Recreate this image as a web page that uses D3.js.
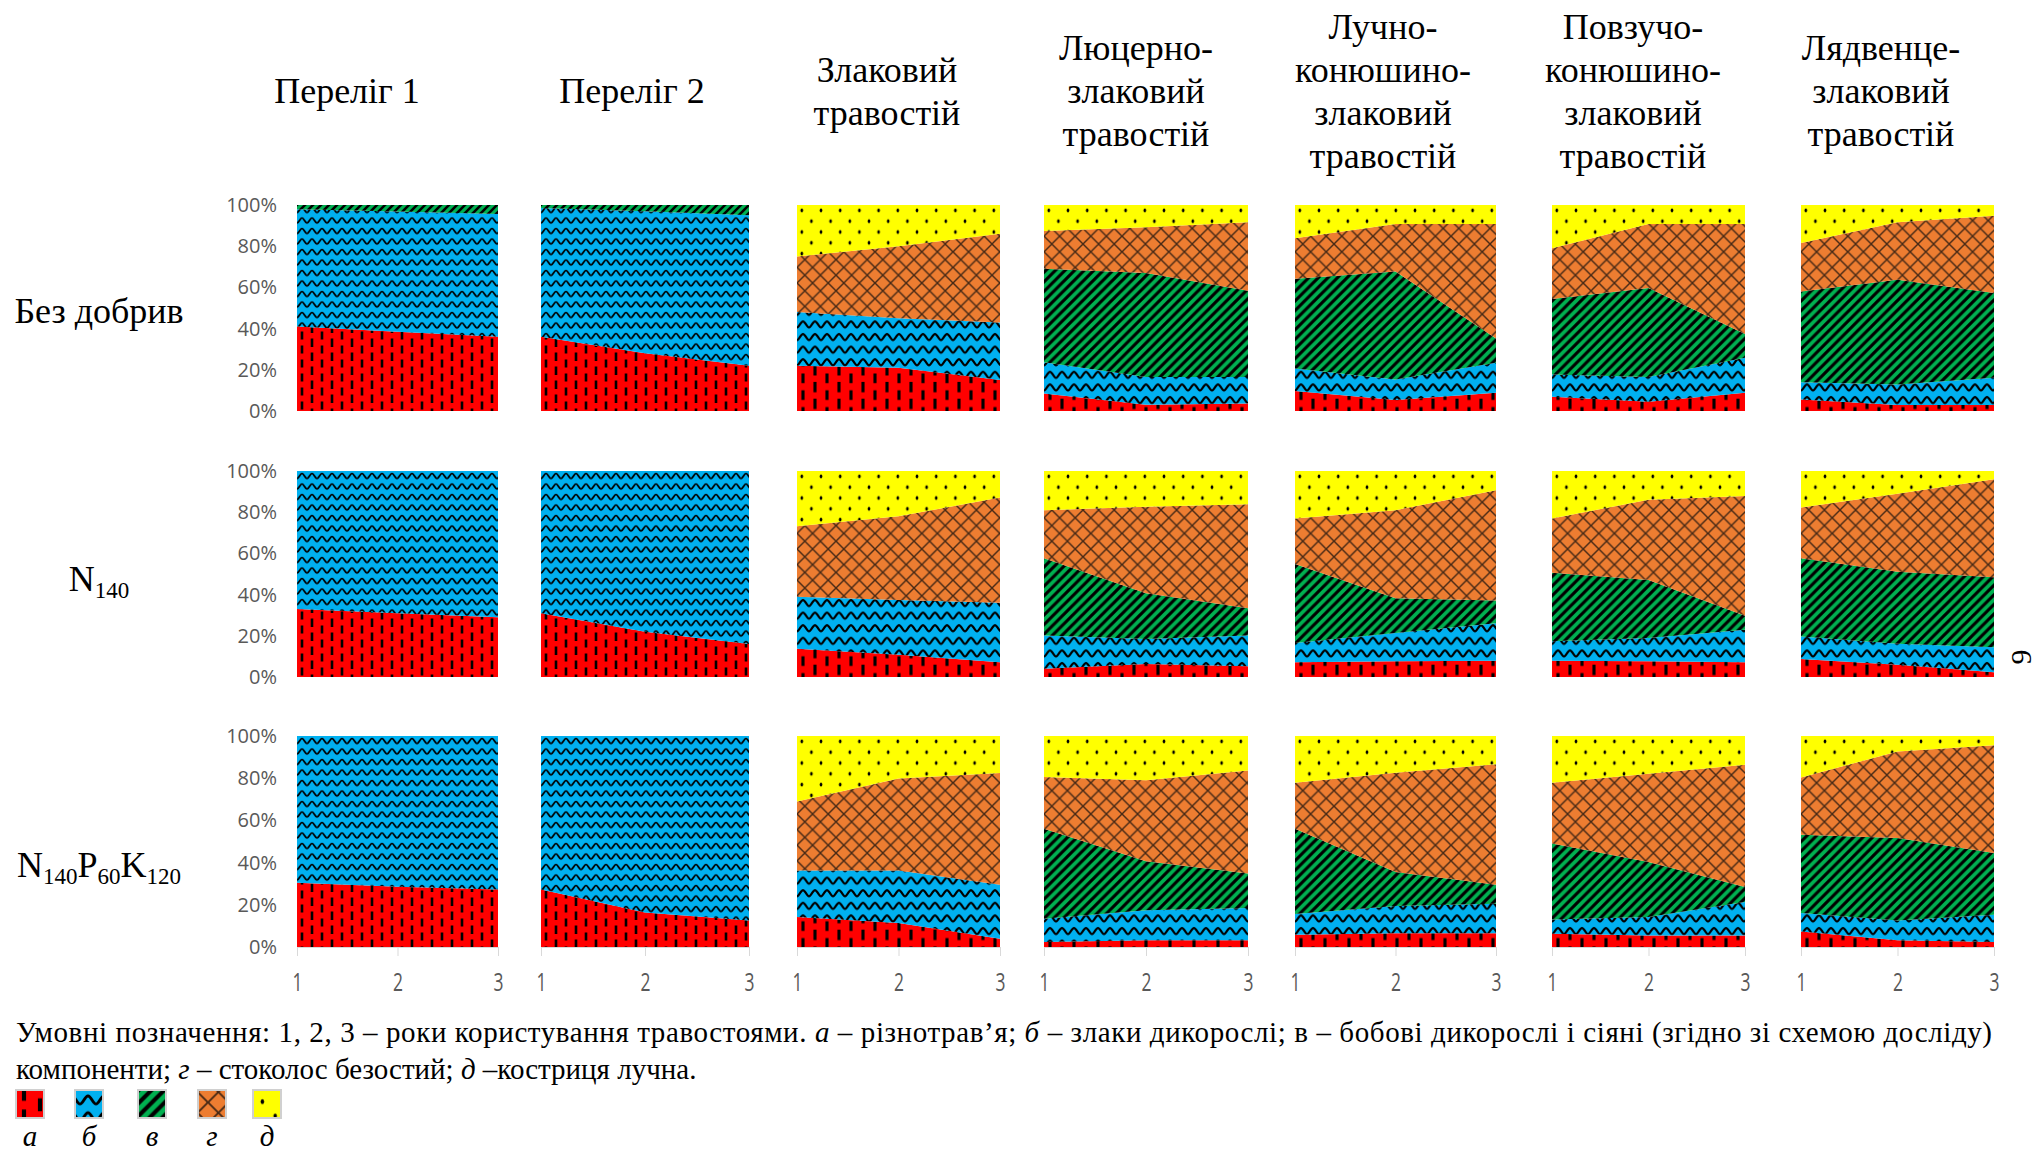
<!DOCTYPE html>
<html>
<head>
<meta charset="utf-8">
<script src="https://cdn.jsdelivr.net/npm/d3@7"></script>
<style>
  body { margin: 0; background: #fff; }
  svg { display: block; }
  .serif { font-family: "Liberation Serif", "Times New Roman", serif; fill: #000; }
  .tick text { font-family: "Open Sans", sans-serif; fill: #595959; }
</style>
</head>
<body>
<div id="chart"></div>
<script>
const W = 2040, H = 1156;

// years of sward use
const years = [1, 2, 3];

const columnTitles = [
  ["Переліг 1"], ["Переліг 2"],
  ["Злаковий", "травостій"],
  ["Люцерно-", "злаковий", "травостій"],
  ["Лучно-", "конюшино-", "злаковий", "травостій"],
  ["Повзучо-", "конюшино-", "злаковий", "травостій"],
  ["Лядвенце-", "злаковий", "травостій"]
];

// row titles: [text, isSubscript]
const rowTitles = [
  [["Без добрив", false]],
  [["N", false], ["140", true]],
  [["N", false], ["140", true], ["P", false], ["60", true], ["K", false], ["120", true]]
];

const seriesKeys = ["a", "b", "v", "g", "d"];
const seriesLetters = ["а", "б", "в", "г", "д"];
const seriesColors = ["#ff0000", "#00b0f0", "#00b050", "#ed7d31", "#ffff00"];

// % of the stand, [fertilizer][sward][year]
// а – різнотрав'я
const riznotravia = [
  [[41, 38.5, 36], [36, 28, 22], [22, 21, 15], [8.5, 3, 3.7], [9.7, 5.3, 8.9], [6.9, 4.5, 8.9], [5.6, 2.9, 2.9]],
  [[33, 31, 29], [31, 22, 16], [13.7, 10.8, 7.1], [4, 6.3, 5.2], [7.1, 7.6, 7.9], [7.9, 7.6, 7.1], [8.7, 6, 2.3]],
  [[30.5, 28.5, 27.3], [27.3, 16.3, 12.6], [14.2, 11.4, 3.9], [2.4, 3.2, 3.2], [5.8, 6.5, 6.5], [6.3, 5.5, 5.5], [7.4, 3.2, 2.4]]
];
// б – злаки дикорослі
const zlaky = [
  [[56.9, 58.3, 59.6], [62.5, 69, 73], [26, 24, 28], [15.2, 13.5, 12.8], [10.9, 10, 14.5], [10.8, 12, 16.9], [8.4, 10, 13.2]],
  [[67, 69, 71], [69, 78, 84], [25.3, 26.6, 29], [16.2, 12.1, 15], [9.4, 13.7, 18.2], [9.4, 11.3, 15.8], [11, 10.1, 12.1]],
  [[69.5, 71.5, 72.7], [72.7, 83.7, 87.4], [22.1, 24.9, 25.6], [11, 14.2, 15.3], [9.8, 12.9, 14], [6.7, 8.7, 15.8], [8.7, 9.4, 12.9]]
];
// в – бобові
const bobovi = [
  [[2.1, 3.2, 4.4], [1.5, 3, 5], [0, 0, 0], [45.3, 50.5, 41.9], [43.6, 52.4, 11.8], [36.7, 43.2, 11.6], [44, 50.8, 41.2]],
  [[0, 0, 0], [0, 0, 0], [0, 0, 0], [37.4, 22.2, 13.2], [38.3, 16.9, 11], [33.3, 28.2, 6.8], [37.9, 35, 34]],
  [[0, 0, 0], [0, 0, 0], [0, 0, 0], [42.7, 23.2, 16.3], [40.5, 16.1, 9], [36, 26.1, 7.1], [37.1, 39.1, 29.2]]
];
// г – стоколос безостий
const stokolos = [
  [[0, 0, 0], [0, 0, 0], [27, 35, 43], [18.4, 22.2, 33.2], [19.7, 23.1, 55.6], [24.6, 31.1, 53.4], [23.5, 27.9, 37.5]],
  [[0, 0, 0], [0, 0, 0], [34.2, 40.6, 51], [23.4, 42, 50.5], [22.1, 42.8, 53.5], [26.3, 39, 58.2], [24.7, 37.9, 47.6]],
  [[0, 0, 0], [0, 0, 0], [32.7, 43.5, 53], [24.5, 38.4, 48.9], [21.8, 47.1, 57.1], [28.9, 41.8, 58], [27.1, 41, 51.1]]
];
// д – костриця лучна
const kostrytsia = [
  [[0, 0, 0], [0, 0, 0], [25, 20, 14], [12.6, 10.8, 8.4], [16.1, 9.2, 9.2], [21, 9.2, 9.2], [18.5, 8.4, 5.2]],
  [[0, 0, 0], [0, 0, 0], [26.8, 22, 12.9], [19, 17.4, 16.1], [23.1, 19, 9.4], [23.1, 13.9, 12.1], [17.7, 11, 4]],
  [[0, 0, 0], [0, 0, 0], [31, 20.2, 17.5], [19.4, 21, 16.3], [22.1, 17.4, 13.4], [22.1, 17.9, 13.6], [19.7, 7.3, 4.4]]
];
const seriesData = [riznotravia, zlaky, bobovi, stokolos, kostrytsia];

const yTicks = [0, 0.2, 0.4, 0.6, 0.8, 1];

// layout of the panel grid
const colX = [297, 541, 797, 1044, 1295, 1552, 1801];
const colW = [201, 208, 203, 204, 201, 193, 193];
const rowY = [205, 471, 736];
const rowH = [206, 206, 211];
const headerX = [347, 632, 887, 1136, 1383, 1633, 1881];
const patScale = [1, 1, 1.2, 1.2, 1.2, 1.2, 1.2];

const svg = d3.select("#chart").append("svg")
  .attr("width", W).attr("height", H)
  .attr("viewBox", "0 0 " + W + " " + H);

const defs = svg.append("defs");

function makePatterns(suffix, scale) {
  // а: dashed vertical
  let p = defs.append("pattern").attr("id", "pat-a-" + suffix)
    .attr("patternUnits", "userSpaceOnUse").attr("width", 20).attr("height", 14)
    .attr("patternTransform", "scale(" + scale + ")");
  p.append("rect").attr("width", 20).attr("height", 14).attr("fill", seriesColors[0]);
  p.append("path").attr("d", "M5,0.5V8.5 M15,7.5V14 M15,0V2")
    .attr("stroke", "#000").attr("stroke-width", 2.6);

  // б: wave
  p = defs.append("pattern").attr("id", "pat-b-" + suffix)
    .attr("patternUnits", "userSpaceOnUse").attr("width", 10).attr("height", 10.5)
    .attr("patternTransform", "scale(" + scale + ")");
  p.append("rect").attr("width", 10).attr("height", 10.5).attr("fill", seriesColors[1]);
  p.append("path").attr("d", "M0,7.5 C2,7.5 3,2.5 5,2.5 C7,2.5 8,7.5 10,7.5")
    .attr("fill", "none").attr("stroke", "#000").attr("stroke-width", 1.8);

  // в: dark upward diagonal
  p = defs.append("pattern").attr("id", "pat-v-" + suffix)
    .attr("patternUnits", "userSpaceOnUse").attr("width", 8).attr("height", 8)
    .attr("patternTransform", "scale(" + scale + ")");
  p.append("rect").attr("width", 8).attr("height", 8).attr("fill", seriesColors[2]);
  p.append("path").attr("d", "M-2,2 L2,-2 M0,8 L8,0 M6,10 L10,6")
    .attr("stroke", "#000").attr("stroke-width", 2.6);

  // г: diamond lattice
  p = defs.append("pattern").attr("id", "pat-g-" + suffix)
    .attr("patternUnits", "userSpaceOnUse").attr("width", 13).attr("height", 13)
    .attr("patternTransform", "scale(" + scale + ")");
  p.append("rect").attr("width", 13).attr("height", 13).attr("fill", seriesColors[3]);
  p.append("path").attr("d", "M0,0 L13,13 M13,0 L0,13")
    .attr("stroke", "#2a1a10").attr("stroke-width", 1.2).attr("stroke-opacity", 0.85);

  // д: dots
  p = defs.append("pattern").attr("id", "pat-d-" + suffix)
    .attr("patternUnits", "userSpaceOnUse").attr("width", 16).attr("height", 18)
    .attr("patternTransform", "scale(" + scale + ")");
  p.append("rect").attr("width", 16).attr("height", 18).attr("fill", seriesColors[4]);
  p.append("ellipse").attr("cx", 4).attr("cy", 4.5).attr("rx", 1.1).attr("ry", 1.6).attr("fill", "#000");
  p.append("ellipse").attr("cx", 12).attr("cy", 13.5).attr("rx", 1.1).attr("ry", 1.6).attr("fill", "#000");
}
makePatterns("s1", 1);
makePatterns("s2", 1.2);
makePatterns("lg", 1.6);

const stack = d3.stack().keys(seriesKeys).offset(d3.stackOffsetExpand);

rowY.forEach(function(ry, r) {
  colX.forEach(function(cx, c) {
    const w = colW[c], h = rowH[r];
    const x = d3.scaleLinear().domain([1, 3]).range([0, w]);
    const y = d3.scaleLinear().domain([0, 1]).range([h, 0]);

    const rows = years.map(function(yr, i) {
      const o = {year: yr};
      seriesKeys.forEach(function(k, s) { o[k] = seriesData[s][r][c][i]; });
      return o;
    });

    const area = d3.area()
      .x(function(d) { return x(d.data.year); })
      .y0(function(d) { return y(d[0]); })
      .y1(function(d) { return y(d[1]); });

    const g = svg.append("g").attr("transform", "translate(" + cx + "," + ry + ")");
    const suffix = patScale[c] === 1 ? "s1" : "s2";

    g.selectAll("path.layer")
      .data(stack(rows))
      .enter().append("path")
        .attr("class", "layer")
        .attr("d", area)
        .attr("fill", function(d) { return "url(#pat-" + d.key + "-" + suffix + ")"; });

    if (c === 0) {
      const ya = g.append("g")
        .call(d3.axisLeft(y).tickValues(yTicks).tickFormat(d3.format(".0%")).tickSize(0).tickPadding(20));
      ya.select(".domain").remove();
      ya.selectAll("text").attr("font-size", 20);
    }

    if (r === rowY.length - 1) {
      const xa = g.append("g").attr("transform", "translate(0," + h + ")")
        .call(d3.axisBottom(x).tickValues(years).tickFormat(d3.format("d")).tickSize(9).tickPadding(17));
      xa.select(".domain").attr("stroke", "#d9d9d9");
      xa.selectAll(".tick line").attr("stroke", "#d9d9d9");
      // the year labels are drawn tall and narrow in the source
      xa.selectAll("text").attr("font-size", 25).attr("transform", "scale(0.7,1)");
    }
  });
});

// column headers
columnTitles.forEach(function(lines, c) {
  const t = svg.append("text").attr("class", "serif")
    .attr("text-anchor", "middle")
    .attr("font-size", 36);
  lines.forEach(function(line, i) {
    t.append("tspan")
      .attr("x", headerX[c])
      .attr("y", 91 + (i - (lines.length - 1) / 2) * 43 + 12)
      .text(line);
  });
});

// row headers
const rowLabelY = [311, 579, 865];
rowTitles.forEach(function(parts, r) {
  const t = svg.append("text").attr("class", "serif")
    .attr("x", 99).attr("y", rowLabelY[r] + 12)
    .attr("text-anchor", "middle").attr("font-size", 36);
  parts.forEach(function(p) {
    const ts = t.append("tspan").text(p[0]);
    if (p[1]) ts.attr("font-size", 23).attr("dy", 7);
    else if (t.selectAll("tspan").size() > 1) ts.attr("dy", -7);
  });
});

// caption
const cap1 = svg.append("text").attr("class", "serif")
  .attr("x", 16).attr("y", 1042).attr("font-size", 29)
  .attr("textLength", 1976).attr("lengthAdjust", "spacing");
[["Умовні позначення: 1, 2, 3 – роки користування травостоями. ", false], ["а", true],
 [" – різнотрав’я; ", false], ["б", true], [" – злаки дикорослі; в – бобові дикорослі і сіяні (згідно зі схемою досліду)", false]]
  .forEach(function(p) {
    cap1.append("tspan").text(p[0]).attr("font-style", p[1] ? "italic" : null);
  });

const cap2 = svg.append("text").attr("class", "serif")
  .attr("x", 16).attr("y", 1079).attr("font-size", 29);
[["компоненти; ", false], ["г", true], [" – стоколос безостий; ", false], ["д", true], [" –костриця лучна.", false]]
  .forEach(function(p) {
    cap2.append("tspan").text(p[0]).attr("font-style", p[1] ? "italic" : null);
  });

// legend swatches
const legendX = [16, 75, 138, 198, 253];
const legend = svg.append("g");
seriesKeys.forEach(function(k, i) {
  legend.append("rect")
    .attr("x", legendX[i]).attr("y", 1090)
    .attr("width", 28).attr("height", 28)
    .attr("fill", "url(#pat-" + k + "-lg)")
    .attr("stroke", "#d0d0d0").attr("stroke-width", 2);
  legend.append("text").attr("class", "serif")
    .attr("x", legendX[i] + 14).attr("y", 1146)
    .attr("text-anchor", "middle").attr("font-size", 29).attr("font-style", "italic")
    .text(seriesLetters[i]);
});

// page number at the margin
svg.append("text").attr("class", "serif")
  .attr("transform", "translate(2031,657) rotate(-90)")
  .attr("text-anchor", "middle").attr("font-size", 30)
  .text("9");
</script>
</body>
</html>
